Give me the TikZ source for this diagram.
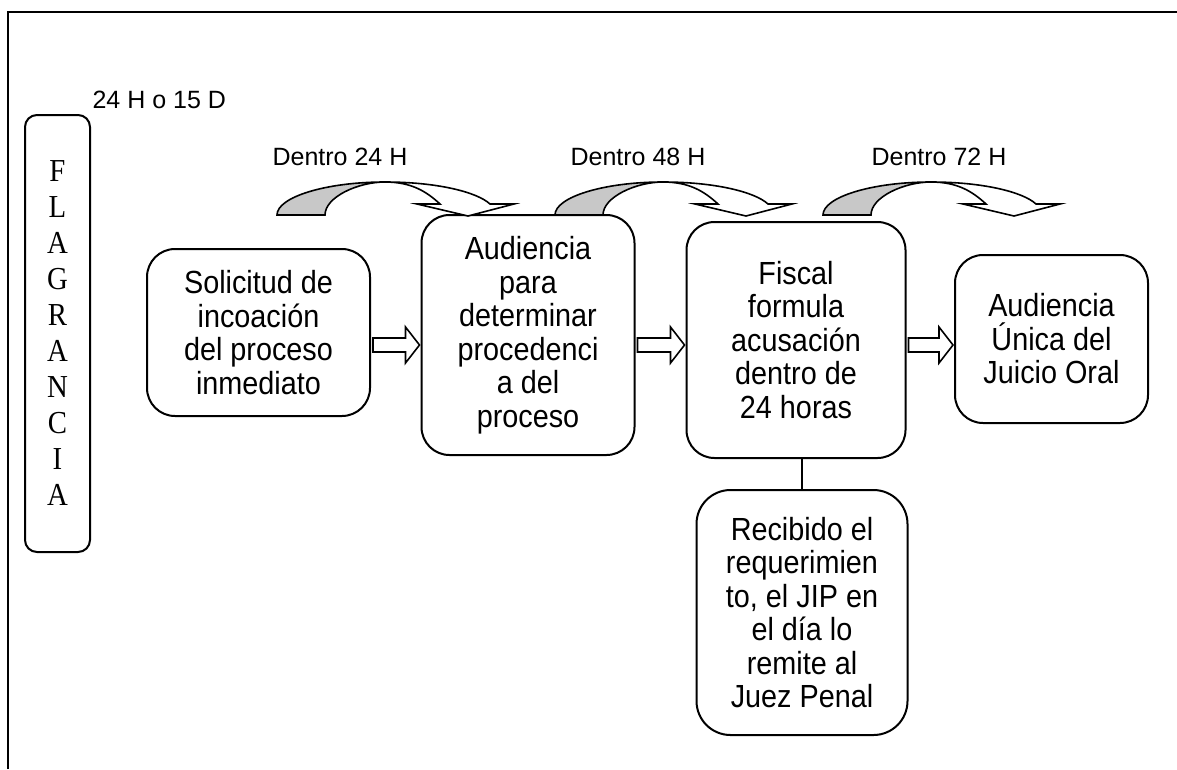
\documentclass[tikz,border=0pt]{standalone}
\usepackage{fontspec}
\setmainfont{Liberation Sans}
\newfontfamily\boxfont[FakeStretch=0.9]{Liberation Sans}
\newfontfamily\flagfont[FakeStretch=0.9]{Liberation Serif}
\definecolor{backgray}{RGB}{200, 200, 200}
\usetikzlibrary{calc}

\tikzset{
  stagebox/.style={draw, line width=2pt, rounded corners=28pt, align=center, inner sep=0pt, font=\boxfont\fontsize{32}{33.5}\selectfont},
  timelabel/.style={font=\fontsize{25}{30}\selectfont},
  blockline/.style={draw, fill=white, line width=1.6pt, line join=miter},
}

% hollow block arrow between two boxes
\newcommand{\hollowarrow}[2]{%
  \draw[blockline] let \p1=(#1.east), \p2=(#2.west) in
    (\x1+2pt,-338pt) -- (\x2-15pt,-338pt) -- (\x2-15pt,-327pt) -- (\x2-1pt,-345pt)
    -- (\x2-15pt,-363pt) -- (\x2-15pt,-352pt) -- (\x1+2pt,-352pt) -- cycle;}

% curved arrow over the boxes
\newcommand{\curvedarrow}[1]{%
  \begin{scope}[shift={(#1,0)}]
    \filldraw[fill=backgray, line width=1.6pt] (0,215) .. controls (0,197) and (49,182) .. (108,182)
      .. controls (81,182) and (48,197) .. (48,215) -- cycle;
    \filldraw[fill=white, line width=1.6pt, line join=miter] (108,182) .. controls (160,182) and (200,192) .. (213,204)
      -- (237,204) -- (191,216) -- (140,204) -- (163,204) .. controls (150,192) and (135,182) .. (108,182) -- cycle;
  \end{scope}}

\begin{document}
\begin{tikzpicture}[x=1pt, y=-1pt]
  \useasboundingbox (0,0) rectangle (1177,769);

  % Frame
  \draw[line width=2pt] (8,769) -- (8,12) -- (1177,12);

  % Time labels
  \node[timelabel, anchor=base west] (plazo) at (89,108) {24 H o 15 D};
  \node[timelabel, anchor=base] (dentro1) at (340,165) {Dentro 24 H};
  \node[timelabel, anchor=base] (dentro2) at (638,165) {Dentro 48 H};
  \node[timelabel, anchor=base] (dentro3) at (939,165) {Dentro 72 H};

  % Flagrancia
  \node[stagebox, rounded corners=12pt, minimum width=65pt, minimum height=437pt, font=\flagfont\fontsize{32}{36}\selectfont] (flag) at (57.5,333.5) {F\\L\\A\\G\\R\\A\\N\\C\\I\\A};

  % Stages
  \node[stagebox, minimum width=223pt, minimum height=167pt] (solicitud) at (258.5,332.5) {Solicitud de\\incoación\\del proceso\\inmediato};
  \node[stagebox, minimum width=213pt, minimum height=240pt] (audiencia) at (528,335) {Audiencia\\para\\determinar\\procedenci\\a del\\proceso};
  \node[stagebox, minimum width=219pt, minimum height=236pt] (fiscal) at (796,340) {Fiscal\\formula\\acusación\\dentro de\\24 horas};
  \node[stagebox, minimum width=193pt, minimum height=168pt] (juicio) at (1051.5,339) {Audiencia\\Única del\\Juicio Oral};
  \node[stagebox, rounded corners=34pt, minimum width=211pt, minimum height=245pt] (recibido) at (802,612.5) {Recibido el\\requerimien\\to, el JIP en\\el día lo\\remite al\\Juez Penal};

  % Curved arrows
  \curvedarrow{277}
  \curvedarrow{555}
  \curvedarrow{823}

  % Block arrows
  \hollowarrow{solicitud}{audiencia}
  \hollowarrow{audiencia}{fiscal}
  \hollowarrow{fiscal}{juicio}

  \draw[line width=1.6pt] (recibido.north) -- (recibido.north |- fiscal.south);
\end{tikzpicture}
\end{document}
